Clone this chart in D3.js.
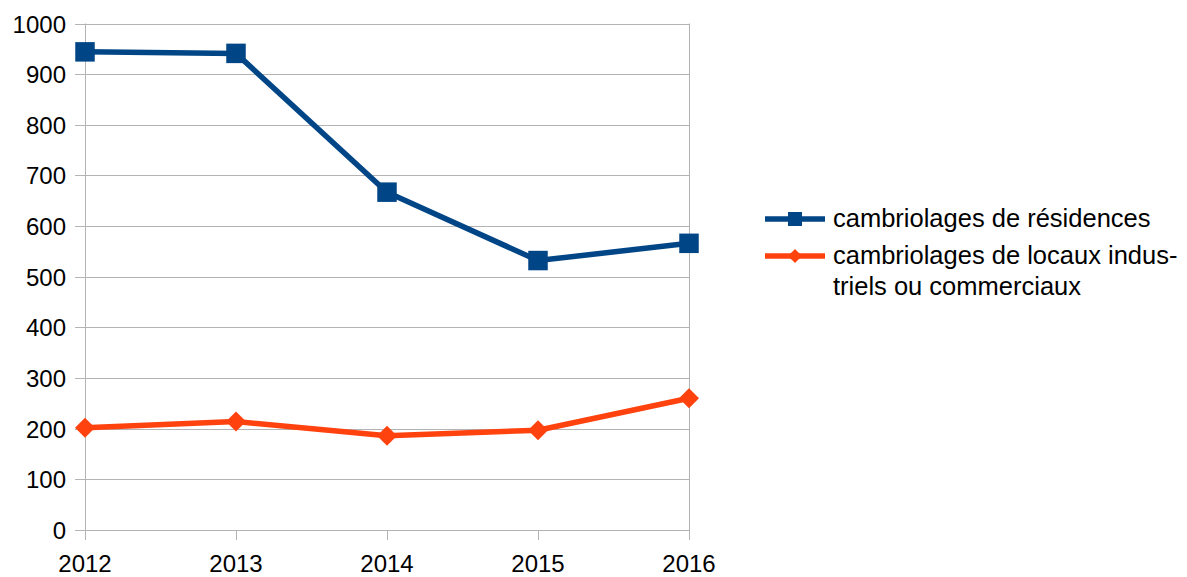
<!DOCTYPE html>
<html>
<head>
<meta charset="utf-8">
<script src="https://cdn.jsdelivr.net/npm/d3@7"></script>
<style>
  body { margin: 0; background: #fff; }
  svg text { font-family: "Liberation Sans", Arial, sans-serif; fill: #000; }
</style>
</head>
<body>
<svg id="chart" width="1187" height="577"></svg>
<script>
const years = [2012, 2013, 2014, 2015, 2016];
const residences = [944, 941, 667, 532, 566];
const industriels = [202, 214, 186, 197, 260];
const yTicks = [0, 100, 200, 300, 400, 500, 600, 700, 800, 900, 1000];
const seriesNames = [
  ['cambriolages de résidences'],
  ['cambriolages de locaux indus-', 'triels ou commerciaux']
];

const BLUE = '#004586', ORANGE = '#ff420e', GRID = '#b3b3b3';
const margin = { left: 85, top: 23.5, right: 498, bottom: 47 };
const width = 1187, height = 577;

const svg = d3.select('#chart');

const xScale = d3.scalePoint()
  .domain(years)
  .range([margin.left, width - margin.right]);

const yScale = d3.scaleLinear()
  .domain([0, 1000])
  .range([height - margin.bottom, margin.top]);

// grid
svg.append('g')
  .selectAll('line')
  .data(yTicks)
  .enter()
  .append('line')
  .attr('x1', margin.left - 10)
  .attr('x2', xScale(2016))
  .attr('y1', d => Math.round(yScale(d)) + 0.5)
  .attr('y2', d => Math.round(yScale(d)) + 0.5)
  .attr('stroke', GRID)
  .attr('stroke-width', 1);

// vertical axis line + right edge
[2012, 2016].forEach(yr => {
  svg.append('line')
    .attr('x1', Math.round(xScale(yr)) + 0.5)
    .attr('x2', Math.round(xScale(yr)) + 0.5)
    .attr('y1', yScale(1000))
    .attr('y2', yScale(0) + 10)
    .attr('stroke', GRID);
});

// x ticks
svg.append('g')
  .selectAll('line')
  .data(years)
  .enter()
  .append('line')
  .attr('x1', d => Math.round(xScale(d)) + 0.5)
  .attr('x2', d => Math.round(xScale(d)) + 0.5)
  .attr('y1', yScale(0))
  .attr('y2', yScale(0) + 10)
  .attr('stroke', GRID);

// y labels
svg.append('g')
  .selectAll('text')
  .data(yTicks)
  .enter()
  .append('text')
  .attr('x', 66)
  .attr('y', d => yScale(d) + 9)
  .attr('text-anchor', 'end')
  .style('font-size', '24px')
  .text(d => d);

// x labels
svg.append('g')
  .selectAll('text')
  .data(years)
  .enter()
  .append('text')
  .attr('x', d => xScale(d))
  .attr('y', 572)
  .attr('text-anchor', 'middle')
  .style('font-size', '24px')
  .text(d => d);

const line = d3.line()
  .x((d, i) => xScale(years[i]))
  .y(d => yScale(d));

function drawSeries(values, color, symbolSize, rot) {
  svg.append('path')
    .datum(values)
    .attr('d', line)
    .attr('fill', 'none')
    .attr('stroke', color)
    .attr('stroke-width', 5.5)
    .attr('stroke-linejoin', 'round');

  svg.append('g')
    .selectAll('path')
    .data(values)
    .enter()
    .append('path')
    .attr('d', d3.symbol().type(d3.symbolSquare).size(symbolSize))
    .attr('transform', (d, i) => `translate(${xScale(years[i])},${yScale(d)}) rotate(${rot})`)
    .attr('fill', color);
}

drawSeries(residences, BLUE, 380, 0);
drawSeries(industriels, ORANGE, 200, 45);

// legend
const legend = svg.append('g');
const legendItems = [
  { color: BLUE, y: 219, rot: 0, size: 14, lines: seriesNames[0] },
  { color: ORANGE, y: 256, rot: 45, size: 10, lines: seriesNames[1] }
];
legendItems.forEach(item => {
  legend.append('line')
    .attr('x1', 765).attr('x2', 825)
    .attr('y1', item.y).attr('y2', item.y)
    .attr('stroke', item.color)
    .attr('stroke-width', 5.5);
  legend.append('rect')
    .attr('x', -item.size / 2).attr('y', -item.size / 2)
    .attr('width', item.size).attr('height', item.size)
    .attr('fill', item.color)
    .attr('transform', `translate(795,${item.y}) rotate(${item.rot})`);
  const t = legend.append('text')
    .attr('x', 833)
    .attr('y', item.y + 8)
    .style('font-size', '25.5px');
  item.lines.forEach((l, i) => {
    t.append('tspan').attr('x', 833).attr('dy', i === 0 ? 0 : 31).text(l);
  });
});
</script>
</body>
</html>
